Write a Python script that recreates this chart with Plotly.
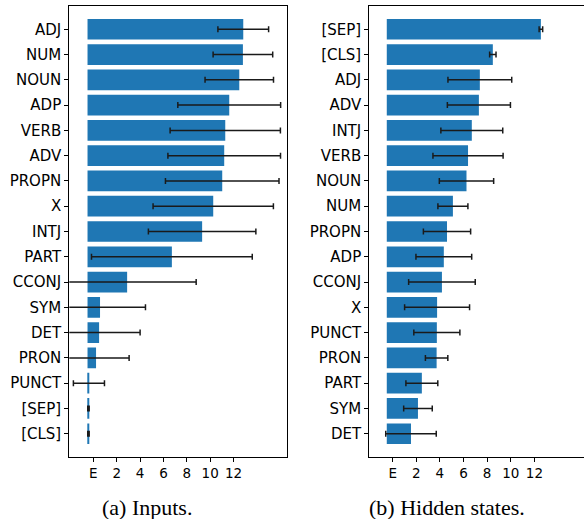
import plotly.graph_objects as go
from plotly.subplots import make_subplots

# Panel (a): Inputs
cats_a = ["ADJ", "NUM", "NOUN", "ADP", "VERB", "ADV", "PROPN", "X", "INTJ", "PART",
          "CCONJ", "SYM", "DET", "PRON", "PUNCT", "[SEP]", "[CLS]"]
mean_a = [12.83, 12.8, 12.49, 11.63, 11.29, 11.2, 11.03, 10.26, 9.31, 6.72,
          2.89, 0.57, 0.49, 0.23, -0.38, -0.42, -0.42]
std_a = [2.17, 2.55, 2.93, 4.4, 4.72, 4.82, 4.86, 5.15, 4.6, 6.88,
         5.91, 3.89, 3.51, 2.83, 1.33, 0.06, 0.06]

# Panel (b): Hidden states
cats_b = ["[SEP]", "[CLS]", "ADJ", "ADV", "INTJ", "VERB", "NOUN", "NUM", "PROPN", "ADP",
          "CCONJ", "X", "PUNCT", "PRON", "PART", "SYM", "DET"]
mean_b = [12.55, 8.48, 7.38, 7.3, 6.7, 6.38, 6.25, 5.1, 4.6, 4.33,
          4.17, 3.76, 3.74, 3.72, 2.47, 2.14, 1.55]
std_b = [0.15, 0.27, 2.7, 2.67, 2.62, 2.97, 2.3, 1.27, 2.0, 2.36,
         2.82, 2.75, 1.95, 0.95, 1.35, 1.21, 2.14]

tick_vals = [0, 2, 4, 6, 8, 10, 12]
tick_text = ["E", "2", "4", "6", "8", "10", "12"]
captions = ["(a) Inputs.", "(b) Hidden states."]

BASE = -0.5
BAR_COLOR = "#1f77b4"
ERR_COLOR = "#1a1a1a"

fig = make_subplots(rows=1, cols=2, horizontal_spacing=0.1)

for col, (cats, means, stds) in enumerate([(cats_a, mean_a, std_a), (cats_b, mean_b, std_b)], start=1):
    fig.add_trace(go.Bar(
        y=cats,
        x=[m - BASE for m in means],
        base=BASE,
        orientation="h",
        width=0.82,
        marker=dict(color=BAR_COLOR, line=dict(width=0)),
        error_x=dict(type="data", array=stds, visible=True, color=ERR_COLOR,
                     thickness=1.5, width=3),
        showlegend=False,
    ), row=1, col=col)

fig.update_xaxes(tickmode="array", tickvals=tick_vals, ticktext=tick_text,
                 ticks="outside", ticklen=4, tickcolor="#000",
                 tickfont=dict(family="DejaVu Sans", size=13.5, color="#000"),
                 showgrid=False, zeroline=False, showline=True, linecolor="#000",
                 linewidth=1.2, mirror=True)
fig.update_yaxes(type="category", ticks="outside", ticklen=4, tickcolor="#000",
                 tickfont=dict(family="DejaVu Sans", size=15, color="#000"),
                 showgrid=False, zeroline=False, showline=True,
                 linecolor="#000", linewidth=1.2)

fig.update_layout(
    width=584, height=519,
    margin=dict(l=0, r=0, t=6, b=62),
    plot_bgcolor="white", paper_bgcolor="white",
    xaxis=dict(domain=[69.3 / 584, 287.3 / 584], range=[-2.06, 16.6]),
    xaxis2=dict(domain=[369.3 / 584, 1.0], range=[-1.98, 16.2]),
    yaxis=dict(categoryorder="array", categoryarray=cats_a, range=[16.92, -0.92], mirror=True),
    yaxis2=dict(categoryorder="array", categoryarray=cats_b, range=[16.92, -0.92], mirror=False),
)

for i, (txt, cx) in enumerate(zip(captions, [147, 446.7])):
    fig.add_annotation(text=txt, x=cx / 584, y=-(507 - 457) / (519 - 6 - 62),
                       xref="paper", yref="paper", showarrow=False,
                       xanchor="center", yanchor="middle",
                       font=dict(family="Liberation Serif", size=22, color="#000"))

fig.write_html("out.html", config={"displayModeBar": False},
               post_script="document.body.style.margin='0';")
